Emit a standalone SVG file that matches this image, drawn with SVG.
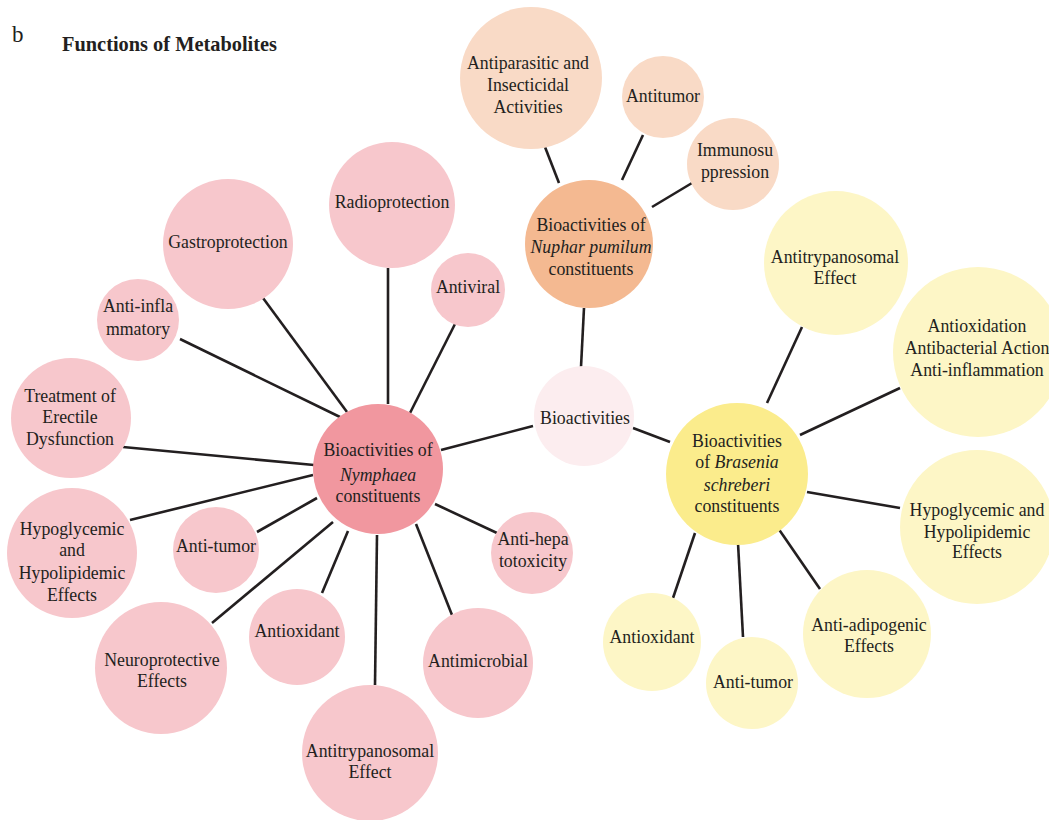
<svg xmlns="http://www.w3.org/2000/svg" width="1049" height="820" viewBox="0 0 1049 820" font-family="Liberation Serif, DejaVu Serif, serif">
<style>
text{font-size:17.8px;fill:#231f20;text-anchor:middle}
.pk{fill:#f7c7cc}
.pk0{fill:#f1979f}
.or0{fill:#f4b991}
.or{fill:#f9dac6}
.bio{fill:#fcedef}
.ye0{fill:#fbec8c}
.ye{fill:#fdf6c6}
#connectors line{stroke:#231f20;stroke-width:2.6}
</style>
<rect width="1049" height="820" fill="#ffffff"/>
<text x="12" y="42" font-family="Liberation Serif, serif" style="font-size:23px;text-anchor:start">b</text>
<text x="62" y="51" font-family="Liberation Serif, serif" style="font-size:22px;font-weight:bold;text-anchor:start" textLength="215" lengthAdjust="spacingAndGlyphs">Functions of Metabolites</text>
<g id="connectors">
<line x1="545" y1="147" x2="559" y2="183"/>
<line x1="643" y1="135" x2="622" y2="180"/>
<line x1="692" y1="183" x2="652" y2="207"/>
<line x1="584" y1="308" x2="581" y2="367"/>
<line x1="533" y1="426" x2="441" y2="450"/>
<line x1="633" y1="428" x2="670" y2="442"/>
<line x1="802" y1="327" x2="767" y2="403"/>
<line x1="900" y1="388" x2="800" y2="435"/>
<line x1="807" y1="492" x2="900" y2="508"/>
<line x1="778" y1="528" x2="820" y2="589"/>
<line x1="738" y1="543" x2="743" y2="637"/>
<line x1="695" y1="533" x2="673" y2="598"/>
<line x1="388" y1="268" x2="388" y2="404"/>
<line x1="455" y1="324" x2="410" y2="413"/>
<line x1="263" y1="298" x2="347" y2="412"/>
<line x1="180" y1="339" x2="340" y2="417"/>
<line x1="123" y1="447" x2="314" y2="465"/>
<line x1="130" y1="520" x2="313" y2="475"/>
<line x1="257" y1="532" x2="317" y2="498"/>
<line x1="212" y1="623" x2="333" y2="522"/>
<line x1="322" y1="593" x2="348" y2="531"/>
<line x1="375" y1="685" x2="377" y2="535"/>
<line x1="452" y1="615" x2="416" y2="524"/>
<line x1="497" y1="533" x2="435" y2="504"/>
</g>
<g id="bioactivities"><circle class="bio" cx="584" cy="416" r="50"/><text x="585" y="424">Bioactivities</text></g>
<g id="nuphar"><circle class="or0" cx="589" cy="244" r="64"/><text x="591" y="231">Bioactivities of</text><text x="591" y="253" font-style="italic">Nuphar pumilum</text><text x="591" y="275">constituents</text></g>
<g id="n-antiparasitic"><circle class="or" cx="531" cy="78" r="71"/><text x="528" y="69">Antiparasitic and</text><text x="528" y="91">Insecticidal</text><text x="528" y="113">Activities</text></g>
<g id="n-antitumor"><circle class="or" cx="663" cy="97" r="41"/><text x="663" y="102">Antitumor</text></g>
<g id="n-immuno"><circle class="or" cx="733" cy="164" r="46"/><text x="735" y="156">Immunosu</text><text x="735" y="178">ppression</text></g>
<g id="nymphaea"><circle class="pk0" cx="378" cy="469" r="65"/><text x="378" y="456">Bioactivities of</text><text x="378" y="481" font-style="italic">Nymphaea</text><text x="378" y="502">constituents</text></g>
<g id="y-radio"><circle class="pk" cx="392" cy="205" r="63"/><text x="392" y="208">Radioprotection</text></g>
<g id="y-antiviral"><circle class="pk" cx="468" cy="290" r="37"/><text x="468" y="293">Antiviral</text></g>
<g id="y-gastro"><circle class="pk" cx="228" cy="244" r="65"/><text x="228" y="248">Gastroprotection</text></g>
<g id="y-antiinfl"><circle class="pk" cx="138" cy="320" r="41"/><text x="138" y="312">Anti-infla</text><text x="138" y="335">mmatory</text></g>
<g id="y-erectile"><circle class="pk" cx="71" cy="418" r="60"/><text x="70" y="402">Treatment of</text><text x="70" y="423">Erectile</text><text x="70" y="445">Dysfunction</text></g>
<g id="y-hypo"><circle class="pk" cx="72" cy="553" r="65"/><text x="72" y="535">Hypoglycemic</text><text x="72" y="556">and</text><text x="72" y="579">Hypolipidemic</text><text x="72" y="601">Effects</text></g>
<g id="y-antitumor"><circle class="pk" cx="216" cy="550" r="43"/><text x="216" y="552">Anti-tumor</text></g>
<g id="y-neuro"><circle class="pk" cx="161" cy="668" r="66"/><text x="162" y="666">Neuroprotective</text><text x="162" y="687">Effects</text></g>
<g id="y-antiox"><circle class="pk" cx="297" cy="637" r="48"/><text x="297" y="637">Antioxidant</text></g>
<g id="y-antitryp"><circle class="pk" cx="370" cy="753" r="68"/><text x="370" y="757">Antitrypanosomal</text><text x="370" y="778">Effect</text></g>
<g id="y-antimicro"><circle class="pk" cx="478" cy="663" r="55"/><text x="478" y="667">Antimicrobial</text></g>
<g id="y-hepa"><circle class="pk" cx="532" cy="553" r="41"/><text x="533" y="545">Anti-hepa</text><text x="533" y="567">totoxicity</text></g>
<g id="brasenia"><circle class="ye0" cx="737" cy="474" r="71"/><text x="737" y="447">Bioactivities</text><text x="737" y="468">of <tspan font-style="italic">Brasenia</tspan></text><text x="737" y="491" font-style="italic">schreberi</text><text x="737" y="512">constituents</text></g>
<g id="b-antitryp"><circle class="ye" cx="836" cy="263" r="72"/><text x="835" y="263">Antitrypanosomal</text><text x="835" y="284">Effect</text></g>
<g id="b-antioxidation"><circle class="ye" cx="978" cy="352" r="85"/><text x="977" y="332">Antioxidation</text><text x="977" y="354">Antibacterial Action</text><text x="977" y="376">Anti-inflammation</text></g>
<g id="b-hypo"><circle class="ye" cx="977" cy="527" r="77"/><text x="977" y="516">Hypoglycemic and</text><text x="977" y="538">Hypolipidemic</text><text x="977" y="558">Effects</text></g>
<g id="b-adipo"><circle class="ye" cx="867" cy="634" r="64"/><text x="869" y="631">Anti-adipogenic</text><text x="869" y="652">Effects</text></g>
<g id="b-antitumor"><circle class="ye" cx="752" cy="683" r="46"/><text x="753" y="688">Anti-tumor</text></g>
<g id="b-antiox"><circle class="ye" cx="652" cy="642" r="49"/><text x="652" y="643">Antioxidant</text></g>
</svg>
